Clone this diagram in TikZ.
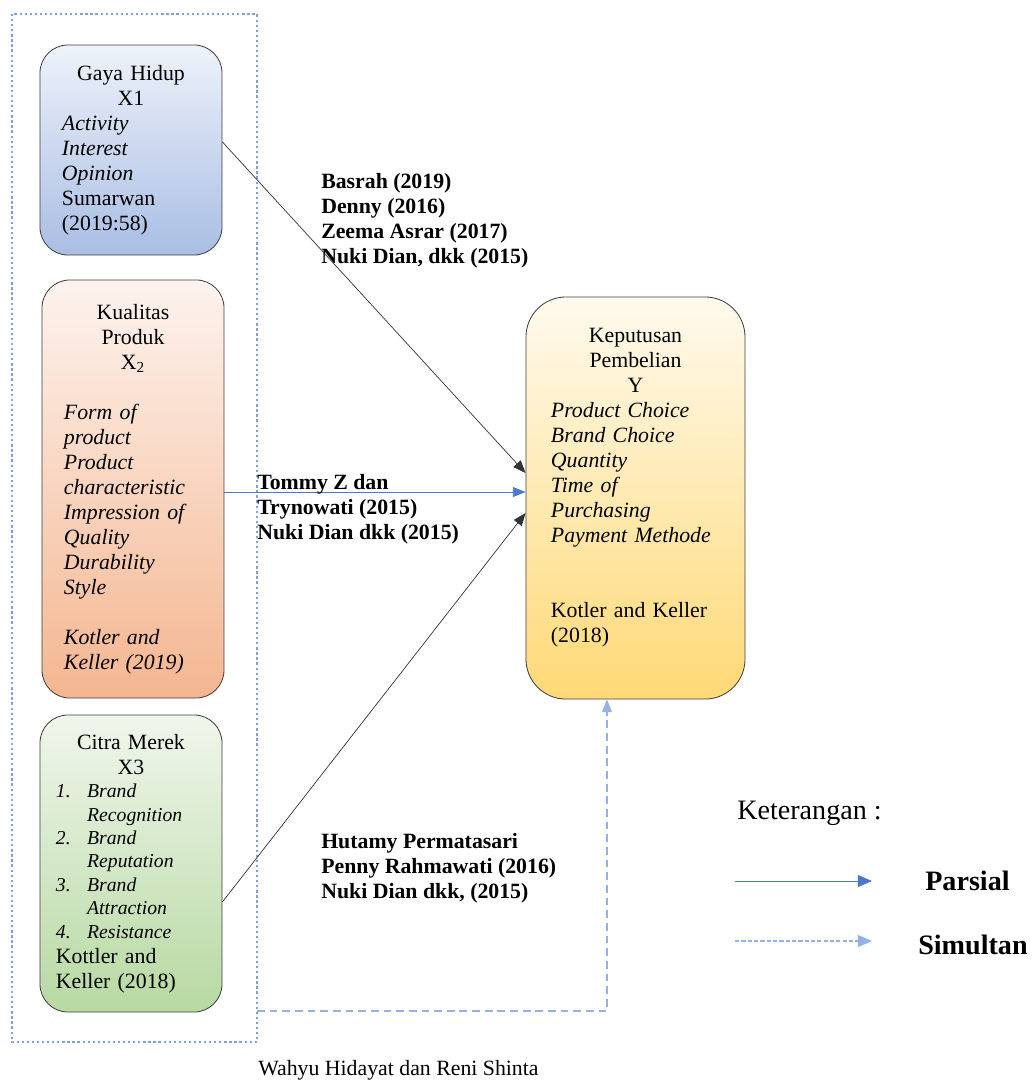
\documentclass[tikz,border=0pt]{standalone}
\usepackage{fontspec}
\setmainfont{Liberation Serif}
\usetikzlibrary{arrows.meta,positioning}

\definecolor{partblue}{HTML}{4A78CC}
\definecolor{simblue}{HTML}{94B0E6}
\definecolor{frameblue}{HTML}{7F9FDD}
\definecolor{xonetop}{HTML}{EEF2FA}
\definecolor{xonebot}{HTML}{A9BEE4}
\definecolor{xtwotop}{HTML}{FDF3EE}
\definecolor{xtwobot}{HTML}{F4B690}
\definecolor{xthreetop}{HTML}{F0F6EC}
\definecolor{xthreebot}{HTML}{B7D9A2}
\definecolor{ytop}{HTML}{FFFAEE}
\definecolor{ybot}{HTML}{FFD976}

\tikzset{
  varbox/.style={draw=black!75, line width=0.6pt, rounded corners=0.7cm,
    minimum width=4.55cm, inner xsep=0.55cm, text width=3.45cm,
    font=\fontsize{15.5}{17.8}\selectfont},
  reftext/.style={anchor=north west, inner sep=0pt, align=left,
    font=\bfseries\fontsize{15.5}{17.8}\selectfont},
  legtext/.style={anchor=west, inner sep=0pt, font=\fontsize{20}{24}\selectfont},
  linkarrow/.style={draw=black!80, line width=0.5pt, -{Triangle[length=9pt,width=7pt]}},
  partarrow/.style={draw=partblue, line width=0.6pt, -{Triangle[length=9pt,width=7pt]}},
  simarrow/.style={draw=simblue, line width=0.8pt, dash pattern=on 5.5pt off 3.5pt,
    -{Triangle[length=9pt,width=7pt]}},
}

\begin{document}
\begin{tikzpicture}[x=0.025cm, y=-0.025cm]
\useasboundingbox (0,0) rectangle (1034,1081);

\def\xl{131};
\def\xr{257};

% frame round the variables
\draw[frameblue, line width=1.6pt, dash pattern=on 1.6pt off 2pt] (12,14) rectangle (\xr,1042);

% variables on the left
\node[varbox, top color=xonetop, bottom color=xonebot, minimum height=5.25cm] (X1) at (\xl,150) {%
{\centering Gaya Hidup\\X1\par}
\raggedright
\textit{Activity}\\
\textit{Interest}\\
\textit{Opinion}\\
Sumarwan\\
(2019:58)};

\node[varbox, top color=xtwotop, bottom color=xtwobot, minimum height=10.45cm] (X2) at (\xl+2,489) {%
{\centering Kualitas\\Produk\\X\textsubscript{2}\par}
\vspace{\baselineskip}
\raggedright\itshape
Form of\\
product\\
Product\\
characteristic\\
Impression of\\
Quality\\
Durability\\
Style\\[\baselineskip]
Kotler and\\
Keller (2019)};

\node[varbox, top color=xthreetop, bottom color=xthreebot, minimum height=7.425cm,
  inner xsep=0.4cm, text width=3.75cm] (X3) at (\xl,863.5) {%
{\centering Citra Merek\\X3\par}
{\raggedright\fontsize{14}{16.7}\selectfont\itshape
\makebox[0.78cm][l]{1.}Brand\\
\hspace*{0.78cm}Recognition\\
\makebox[0.78cm][l]{2.}Brand\\
\hspace*{0.78cm}Reputation\\
\makebox[0.78cm][l]{3.}Brand\\
\hspace*{0.78cm}Attraction\\
\makebox[0.78cm][l]{4.}Resistance\par}
\raggedright
Kottler and\\
Keller (2018)};

% dependent variable
\node[varbox, top color=ytop, bottom color=ybot, minimum width=5.475cm, minimum height=10.05cm,
  rounded corners=1cm, inner xsep=0.625cm, text width=4.225cm] (Y) at (635.5,498) {%
{\centering Keputusan\\Pembelian\\Y\par}
\raggedright
\textit{Product Choice}\\
\textit{Brand Choice}\\
\textit{Quantity}\\
\textit{Time of}\\
\textit{Purchasing}\\
\textit{Payment Methode}\\[2\baselineskip]
Kotler and Keller\\
(2018)\\
\mbox{}};

% arrows into Y
\draw[linkarrow] ([yshift=0.2cm]X1.east) -- ([yshift=0.625cm]Y.west);
\draw[partarrow] ([yshift=-0.075cm]X2.east) -- ([yshift=-0.075cm]X2.east -| Y.west);
\draw[linkarrow] ([yshift=-0.96cm]X3.east) -- ([yshift=-0.375cm]Y.west);

\coordinate (simA) at (\xr,1011);
\coordinate (simB) at (607,1011);
\draw[simarrow] (simA) -- (simB) -- (simB |- Y.south);

% references
\node[reftext] (refA) at (321,173) {Basrah (2019)\\Denny (2016)\\Zeema Asrar (2017)\\Nuki Dian, dkk (2015)};
\node[reftext] (refB) at (257,474) {Tommy Z dan\\Trynowati (2015)\\Nuki Dian dkk (2015)};
\node[reftext] (refC) at (321,833) {Hutamy Permatasari\\Penny Rahmawati (2016)\\Nuki Dian dkk, (2015)};

% legend
\node[legtext] (ket) at (737,813) {Keterangan :};
\coordinate (parsA) at (735,881);
\coordinate (parsB) at (872,881);
\draw[partarrow, -{Triangle[length=10pt,width=8.5pt]}] (parsA) -- (parsB);
\node[legtext, font=\bfseries\fontsize{20}{24}\selectfont] (pars) at (925,881) {Parsial};
\coordinate (simC) at (735,941);
\coordinate (simD) at (872,941);
\draw[simarrow, dash pattern=on 3pt off 1.5pt, -{Triangle[length=10pt,width=8.5pt]}] (simC) -- (simD);
\node[legtext, font=\bfseries\fontsize{20}{24}\selectfont] (sim) at (918,945) {Simultan};

% source
\node[anchor=north west, inner sep=0pt, font=\fontsize{15.5}{17.8}\selectfont] (src) at (258,1060) {Wahyu Hidayat dan Reni Shinta};

\end{tikzpicture}
\end{document}
